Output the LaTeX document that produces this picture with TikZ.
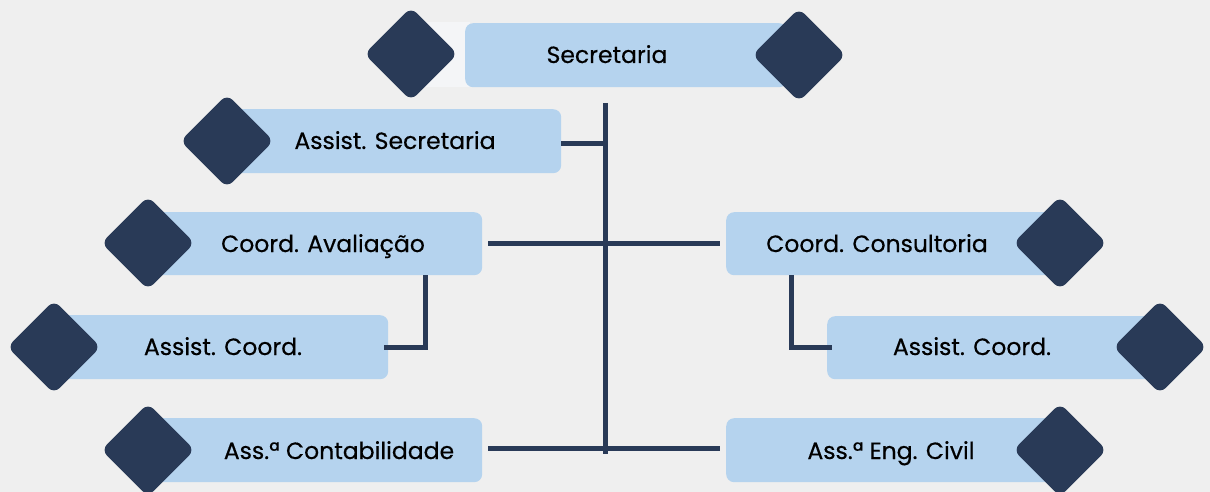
\documentclass[tikz,border=0pt]{standalone}
\usepackage{fontspec}
\setmainfont{Poppins}[FakeBold=0.4]
\definecolor{bg}{HTML}{EFEFEF}
\definecolor{boxc}{HTML}{B5D3EE}
\definecolor{navy}{HTML}{293A57}
\definecolor{pale}{HTML}{F4F5F7}
\begin{document}
\begin{tikzpicture}[x=1pt,y=-1pt,
  box/.style={fill=boxc,rounded corners=8pt,inner sep=0pt,anchor=north west},
  dia/.style={fill=navy,rounded corners=8pt,minimum width=66pt,minimum height=66pt,inner sep=0pt,rotate=45},
  lbl/.style={font=\fontsize{23.5}{26}\selectfont,text=black,inner sep=0pt,anchor=base},
  conn/.style={draw=navy,line width=5pt}]
\fill[bg] (0,0) rectangle (1210,492);
\useasboundingbox (0,0) rectangle (1210,492);
\fill[pale] (420,22) rectangle (470,87);
% spine
\coordinate (spt) at (605,103);
\coordinate (spb) at (605,454);
\draw[conn] (spt) -- (spb);
% boxes
\node[box,minimum width=322pt,minimum height=64pt] (sec) at (465,23) {};
\node[box,minimum width=331pt,minimum height=64pt] (as) at (230,109) {};
\node[box,minimum width=332pt,minimum height=63pt] (ca) at (150,212) {};
\node[box,minimum width=334pt,minimum height=63pt] (cc) at (726,212) {};
\node[box,minimum width=328pt,minimum height=64pt] (ac1) at (60,315) {};
\node[box,minimum width=333pt,minimum height=63pt] (ac2) at (827,316) {};
\node[box,minimum width=332pt,minimum height=64pt] (acon) at (150,418) {};
\node[box,minimum width=334pt,minimum height=64pt] (aeng) at (726,418) {};
% connectors between boxes
\draw[conn] (as.east) ++(0,2) coordinate (ase) -- (ase -| spt);
\draw[conn,shorten <=6pt,shorten >=6pt] (ca.east) -- (cc.west);
\draw[conn,shorten <=6pt,shorten >=6pt] ([yshift=2pt]acon.east) -- ([yshift=2pt]aeng.west);
\coordinate (cab) at (425,275);
\draw[conn] (cab) |- ([xshift=-4pt]ac1.east);
\coordinate (ccb) at (791,275);
\draw[conn] (ccb) |- ([xshift=5pt]ac2.west);
% diamonds
\node[dia] (d1) at (411,54) {};
\node[dia] (d2) at (799,55) {};
\node[dia] (d3) at (227,141) {};
\node[dia] (d4) at (148,243) {};
\node[dia] (d5) at (1060,243) {};
\node[dia] (d6) at (54,347) {};
\node[dia] (d7) at (1160,347) {};
\node[dia] (d8) at (148,450) {};
\node[dia] (d9) at (1060,450) {};
% labels
\node[lbl] (tsec) at (607,63) {Secretaria};
\node[lbl] (tas) at (395,149) {Assist. Secretaria};
\node[lbl] (tca) at (323,252) {Coord. Avaliação};
\node[lbl] (tcc) at (877,252) {Coord. Consultoria};
\node[lbl] (tac1) at (223,355) {Assist. Coord.};
\node[lbl] (tac2) at (972,355) {Assist. Coord.};
\node[lbl] (tacon) at (339,459) {Ass.ª Contabilidade};
\node[lbl] (taeng) at (891,459) {Ass.ª Eng. Civil};
\end{tikzpicture}
\end{document}
